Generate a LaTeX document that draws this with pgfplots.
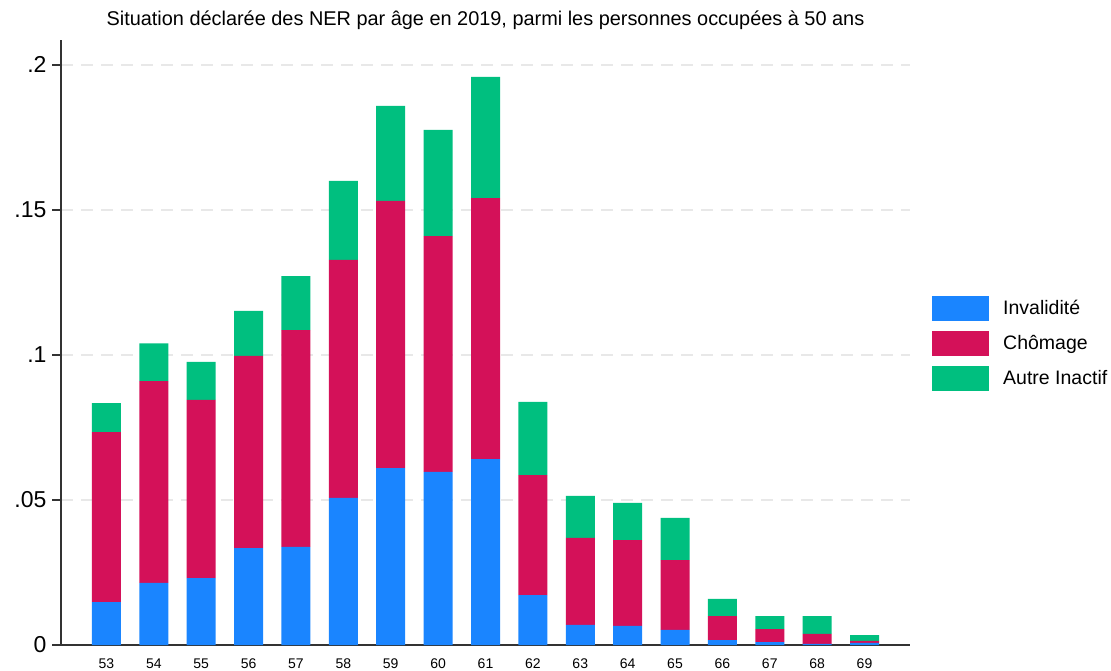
\documentclass[border=0pt]{standalone}
\usepackage{pgfplots}
\pgfplotsset{compat=1.18}
\usepackage{pgfplotstable}
\usepackage{fontspec}
\setmainfont{Liberation Sans}
\definecolor{cblue}{HTML}{1A85FF}
\definecolor{cred}{HTML}{D41159}
\definecolor{cgreen}{HTML}{00BF7F}
\definecolor{gridc}{HTML}{E8E8E8}
\definecolor{axc}{HTML}{333333}
\pgfplotstableread{
age inv cho aut
53 0.0148 0.0586 0.0100
54 0.0214 0.0696 0.0130
55 0.0231 0.0614 0.0131
56 0.0334 0.0663 0.0155
57 0.0338 0.0748 0.0186
58 0.0507 0.0821 0.0272
59 0.0610 0.0921 0.0328
60 0.0597 0.0813 0.0366
61 0.0641 0.0900 0.0418
62 0.0172 0.0414 0.0252
63 0.0069 0.0300 0.0145
64 0.0066 0.0296 0.0128
65 0.0052 0.0241 0.0145
66 0.0017 0.0083 0.0059
67 0.0010 0.0045 0.0045
68 0.0004 0.0034 0.0062
69 0.0007 0.0007 0.0020
}\data
\begin{document}
\begin{tikzpicture}
\useasboundingbox (-61pt,-25pt) rectangle (1050pt,645pt);
\begin{axis}[
  at={(0,0)}, anchor=south west,
  scale only axis, width=849pt, height=605pt,
  ybar stacked, bar width=29pt,
  xmin=52.04, xmax=69.96, ymin=0, ymax=0.2086,
  axis x line=bottom, axis y line=left,
  axis line style={axc, line width=1.3pt, -},
  /pgf/number format/assume math mode=true,
  xtick={53,...,69}, xtick style={draw=none},
  xticklabels={53,54,55,56,57,58,59,60,61,62,63,64,65,66,67,68,69},
  xticklabel style={font=\fontsize{14}{16}\selectfont, anchor=base, yshift=-14.5pt},
  ytick={0,0.05,0.1,0.15,0.2},
  yticklabels={0,.05,.1,.15,.2},
  yticklabel style={font=\fontsize{23}{26}\selectfont, xshift=-2pt},
  ytick style={axc, line width=1.2pt},
  tick align=outside, major tick length=9pt,
  ymajorgrids, grid style={gridc, line width=1.5pt, dash pattern=on 12pt off 8pt},
  title={Situation déclarée des NER par âge en 2019, parmi les personnes occupées à 50 ans},
  title style={font=\fontsize{19.9}{22}\selectfont, anchor=base, at={(0.5,1)}, yshift=8pt},
  legend style={at={(1.0224,0.499)}, anchor=west, draw=none, fill=none,
    font=\fontsize{19.5}{22}\selectfont, nodes={inner sep=0pt, anchor=west},
    row sep=10pt, column sep=14pt},
  legend cell align=left,
  legend image code/.code={\fill (0pt,-12.5pt) rectangle (57pt,12.5pt);},
]
\addplot[fill=cblue, draw=none] table[x=age, y=inv] {\data};
\addplot[fill=cred, draw=none] table[x=age, y=cho] {\data};
\addplot[fill=cgreen, draw=none] table[x=age, y=aut] {\data};
\legend{Invalidité, Chômage, Autre Inactif}
\end{axis}
\end{tikzpicture}
\end{document}
